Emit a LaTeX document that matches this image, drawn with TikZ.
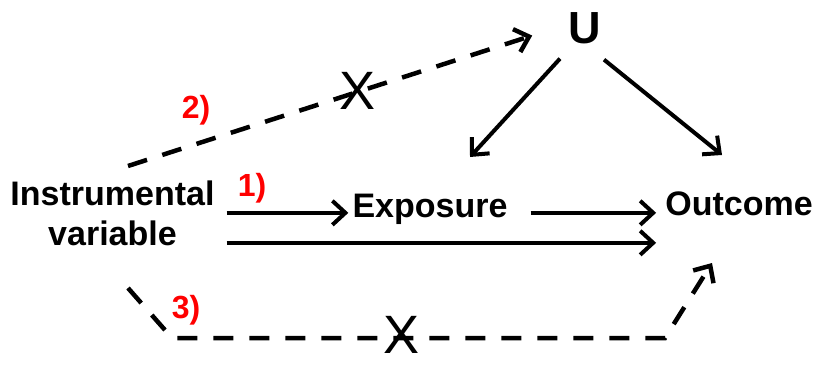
\documentclass[tikz,border=0pt]{standalone}
\usepackage{fontspec}
\setmainfont{Liberation Sans}
\usetikzlibrary{arrows.meta}
\usetikzlibrary{calc}

\begin{document}
\begin{tikzpicture}[x=1pt, y=1pt,
		var/.style={font=\fontsize{34}{40}\selectfont\bfseries, inner sep=4pt},
		tag/.style={font=\fontsize{32}{34}\selectfont\bfseries, text=red, inner sep=0pt},
		cross/.style={font=\fontsize{54}{58}\selectfont, inner sep=0pt},
		arr/.style={-{Straight Barb[length=13pt, width=24pt]}, line width=4pt},
		dasharr/.style={arr, line width=4.5pt, dash pattern=on 20pt off 16pt}]
	\useasboundingbox (0,0) rectangle (816,365);
	% variables
	\node[var, align=center] (iv) at (112.5,152) {Instrumental\\variable};
	\node[var, anchor=base] (exp) at (430,148) {Exposure};
	\node[var, anchor=base] (out) at (739,150) {Outcome};
	\node[var, font=\fontsize{45}{48}\selectfont\bfseries, anchor=base] (u) at (585,321) {U};
	% levels of the direct arrows
	\coordinate (lvl1) at ([yshift=-4pt]exp.west);
	\coordinate (lvl2) at ([yshift=-34pt]exp.west);
	\draw[arr, shorten <=8pt] (iv.east |- lvl1) -- (lvl1);
	\draw[arr, shorten <=19pt, shorten >=5pt] (exp.east |- lvl1) -- (out.west |- lvl1);
	\draw[arr, shorten <=8pt, shorten >=5pt] (iv.east |- lvl2) -- (out.west |- lvl2);
	% confounder
	\coordinate (uexp) at (470,208);
	\coordinate (uout) at (722,210);
	\draw[arr] ([shift={(-25,-10)}]u.south) -- (uexp);
	\draw[arr] ([shift={(19,-11)}]u.south) -- (uout);
	% violated assumptions
	\coordinate (d2a) at (128,199);
	\draw[dasharr, shorten >=34pt] (d2a) -- (u.170);
	\coordinate (d3a) at (128,77);
	\coordinate (d3b) at (172,27);
	\coordinate (d3c) at (665,27);
	\coordinate (d3d) at (712,102);
	\draw[dasharr] (d3a) -- (d3b) -- (d3c) -- (d3d);
	\node[cross] (x2) at (358,274) {X};
	\node[cross] (x3) at (402,30) {X};
	\node[tag] (t1) at (252,177) {1)};
	\node[tag] (t2) at (196,255) {2)};
	\node[tag] (t3) at (186,55) {3)};
\end{tikzpicture}
\end{document}
